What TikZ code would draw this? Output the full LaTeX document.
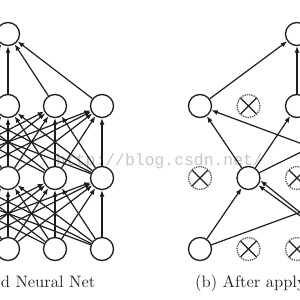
\documentclass[tikz,border=0pt]{standalone}
\usepackage{fontspec}
\newfontfamily\wmfont{Liberation Mono}
\newfontfamily\capfont[Extension=.otf]{lmroman10-regular}
\usetikzlibrary{arrows.meta,calc}
\definecolor{ink}{HTML}{1E1E1E}
\definecolor{dropink}{HTML}{555555}
\begin{document}
\begin{tikzpicture}[x=1pt,y=-1pt,
  unit/.style={circle,draw=ink,line width=1.3pt,minimum size=23pt,inner sep=0pt,fill=white},
  dropunit/.style={circle,draw=dropink,densely dotted,line width=1.3pt,minimum size=23pt,inner sep=0pt,fill=white,
    path picture={\draw[ink,solid,line width=1.2pt]
      (path picture bounding box.north west) -- (path picture bounding box.south east)
      (path picture bounding box.north east) -- (path picture bounding box.south west);}},
  conn/.style={draw=ink,line width=1.2pt,-{Latex[length=6.5pt,width=5pt]}},
  caption/.style={font=\capfont\fontsize{16.5}{18}\selectfont,text=black!85,inner sep=0pt},
  watermark/.style={font=\wmfont\fontsize{16.4}{18}\selectfont,text=black!22,inner sep=0pt}]
\useasboundingbox (0,0) rectangle (300,300);
\clip (0,0) rectangle (300,300);
\fill[white] (0,0) rectangle (300,300);
% watermark
\node[watermark,anchor=base west] (wm) at (56,165) {http://blog.csdn.net/};
% ---------- (a) standard network ----------
\foreach \i/\x in {1/-86,2/-39,3/8,4/55,5/102}{
  \node[unit] (a2\i) at (\x,106) {};
  \node[unit] (a3\i) at (\x,178) {};
  \node[unit] (a4\i) at (\x,249) {};
}
\node[unit] (a1) at (8,34) {};
\foreach \i in {1,...,5}{
  \draw[conn] (a2\i) -- (a1);
  \foreach \j in {1,...,5}{
    \draw[conn] (a4\i) -- (a3\j);
    \draw[conn] (a3\i) -- (a2\j);
  }
}
\node[caption,anchor=base east] (capa) at (95.5,287) {(a) Standard Neural Net};
% ---------- (b) after dropout ----------
\node[unit] (b1) at (297,34) {};
\node[unit] (b21) at (200,106) {};
\node[dropunit] (b22) at (248.5,106) {};
\node[unit] (b23) at (297,106) {};
\node[dropunit] (b24) at (345.5,106) {};
\node[unit] (b25) at (394,106) {};
\node[dropunit] (b31) at (200,178) {};
\node[unit] (b32) at (248.5,178) {};
\node[dropunit] (b33) at (297,178) {};
\node[dropunit] (b34) at (345.5,178) {};
\node[unit] (b35) at (394,178) {};
\node[unit] (b41) at (200,249) {};
\node[dropunit] (b42) at (248.5,249) {};
\node[dropunit] (b43) at (297,249) {};
\node[unit] (b44) at (345.5,249) {};
\node[dropunit] (b45) at (394,249) {};
\draw[conn] (b21) -- (b1);
\draw[conn] (b23) -- (b1);
\draw[conn] (b25) -- (b1);
\draw[conn] (b32) -- (b21);
\draw[conn] (b32) -- (b23);
\draw[conn] (b32) -- (b25);
\draw[conn] (b35) -- (b21);
\draw[conn] (b35) -- (b23);
\draw[conn] (b41) -- (b32);
\draw[conn] (b41) -- (b35);
\draw[conn] (b44) -- (b32);
\draw[conn] (b44) -- (b32.-12);
\node[caption,anchor=base west] (capb) at (195,287) {(b) After applying dropout.};
\end{tikzpicture}
\end{document}
